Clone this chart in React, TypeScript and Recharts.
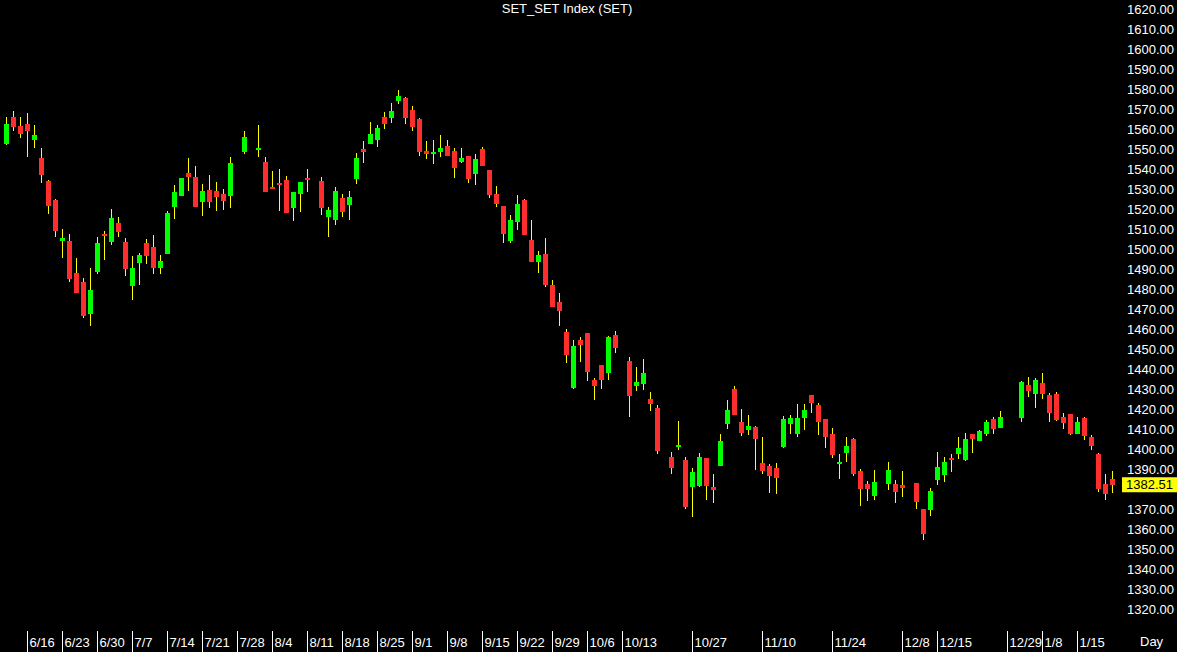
import React from "react";
import { ComposedChart, Bar, XAxis, YAxis, ReferenceLine } from "recharts";

// daily OHLC, null = no trading that slot
const opens = [
  1552.8, 1565.9, 1561.6, 1562.8, 1554.6, 1545.6, 1534.1, 1524.7, 1504.3, 1504.3,
  1488.2, 1483.7, 1467.9, 1488.7, 1507.7, 1503.8, 1513.2, 1503.5, 1481.7, 1493.1,
  1503.2, 1501.2, 1490.9, 1497.6, 1521.2, 1526.8, 1538.0, 1536.1, 1523.7, 1529.5,
  1529.2, 1527.5, 1526.8, null, 1548.5, null, 1549.8, 1543.8, 1531.2, 1533.3,
  1534.6, 1520.7, 1527.8, 1535.6, null, 1534.1, 1516.3, 1514.8, 1525.8, 1522.3,
  1535.3, 1550.3, 1552.8, 1554.6, 1565.9, 1565.7, 1574.1, 1575.6, 1569.4, 1565.1,
  1549.1, 1547.6, 1548.6, 1551.5, 1549.3, 1543.6, 1546.6, 1537.6, 1550.1, 1539.6,
  1527.8, 1521.8, 1504.3, 1513.8, 1524.5, 1504.8, 1493.9, 1497.7, 1482.2, 1473.6,
  1458.8, 1430.8, 1454.8, 1458.1, 1434.8, 1442.1, 1438.2, 1457.3, null, 1444.1,
  1432.0, 1432.9, 1425.5, 1420.7, null, 1396.4, 1401.2, 1394.9, 1381.5, 1381.8,
  1395.9, 1381.3, 1391.9, 1412.8, 1430.3, 1413.8, 1410.0, 1411.2, 1393.2, 1392.0,
  1390.7, 1401.4, 1413.0, 1407.9, 1415.7, 1427.3, 1422.3, 1415.3, 1407.9, 1393.0,
  1398.5, 1405.4, 1389.5, 1382.7, 1376.7, null, 1383.0, 1382.7, 1382.2, null,
  1383.4, 1370.4, 1370.1, 1384.9, 1387.4, 1395.7, 1398.0, 1394.7, 1407.9, 1404.5,
  1408.0, 1415.3, 1410.7, null, null, 1415.7, 1432.3, 1427.8, 1433.3, 1427.3,
  1427.8, 1416.3, 1417.7, 1408.0, 1416.0, 1406.4, 1398.0, 1382.9, 1385.4,
];

const highs = [
  1566.1, 1569.2, 1566.1, 1568.1, 1562.3, 1550.5, 1534.6, 1525.2, 1510.3, 1507.5,
  1495.6, 1485.9, 1490.7, 1506.2, 1509.2, 1520.0, 1516.2, 1505.9, 1496.7, 1498.4,
  1505.3, 1507.0, 1497.2, 1519.2, 1532.0, 1535.5, 1545.6, 1541.5, 1532.5, 1537.1,
  1533.6, 1530.2, 1546.1, null, 1559.1, null, 1562.1, 1546.1, 1539.1, 1540.1,
  1536.8, 1528.5, 1533.5, 1540.1, null, 1536.0, 1521.3, 1531.0, 1527.7, 1529.3,
  1548.1, 1554.1, 1563.6, 1562.1, 1568.6, 1573.1, 1579.6, 1576.1, 1571.7, 1565.6,
  1554.0, 1554.6, 1557.0, 1554.5, 1550.5, 1550.6, 1546.6, 1547.6, 1551.0, 1539.6,
  1531.7, 1521.8, 1517.2, 1527.2, 1525.0, 1514.7, 1499.2, 1505.7, 1484.7, 1478.1,
  1460.1, 1454.9, 1456.4, 1458.1, 1435.7, 1442.1, 1456.8, 1459.3, null, 1446.3,
  1441.1, 1445.3, 1428.8, 1422.3, null, 1398.9, 1414.3, 1396.4, 1390.9, 1398.2,
  1395.9, 1388.0, 1407.9, 1424.8, 1431.7, 1420.2, 1417.2, 1411.8, 1406.4, 1392.7,
  1393.4, 1416.8, 1417.3, 1422.8, 1422.8, 1427.3, 1423.2, 1415.3, 1411.0, 1398.0,
  1406.4, 1405.7, 1390.2, 1384.2, 1389.7, null, 1393.7, 1384.7, 1389.5, null,
  1383.4, 1370.4, 1380.9, 1398.9, 1396.2, 1397.9, 1406.5, 1408.2, 1407.9, 1409.7,
  1414.8, 1416.3, 1419.2, null, null, 1434.3, 1436.5, 1435.7, 1438.3, 1428.3,
  1428.7, 1418.5, 1417.7, 1416.5, 1416.3, 1407.4, 1398.4, 1387.7, 1389.4,
];

const lows = [
  1552.3, 1559.2, 1555.5, 1546.3, 1550.8, 1533.0, 1517.5, 1506.3, 1495.9, 1483.9,
  1478.1, 1465.6, 1461.9, 1487.9, 1494.7, 1502.3, 1506.3, 1486.6, 1474.9, 1482.2,
  1492.7, 1487.9, 1487.6, 1497.6, 1515.3, 1526.8, 1529.3, 1521.0, 1516.8, 1520.7,
  1519.2, 1519.5, 1520.8, null, 1547.6, null, 1546.1, 1528.7, 1530.3, 1519.2,
  1518.3, 1514.3, 1518.7, 1528.8, null, 1517.3, 1506.0, 1512.2, 1516.3, 1514.8,
  1532.5, 1543.3, 1552.8, 1551.1, 1560.3, 1563.1, 1572.7, 1562.7, 1559.2, 1546.8,
  1545.3, 1542.6, 1546.3, 1546.8, 1535.8, 1543.1, 1533.0, 1532.3, 1541.5, 1525.5,
  1521.3, 1503.3, 1503.3, 1509.7, 1507.2, 1493.9, 1488.4, 1481.4, 1471.4, 1461.9,
  1443.5, 1430.2, 1443.6, 1434.2, 1424.8, 1430.2, 1434.6, 1448.5, null, 1416.3,
  1429.5, 1430.0, 1419.5, 1398.0, null, 1387.7, 1399.7, 1370.6, 1366.6, 1381.4,
  1374.9, 1373.6, 1391.9, 1410.4, 1417.2, 1407.0, 1407.2, 1389.7, 1387.7, 1378.4,
  1378.1, 1400.7, 1408.0, 1406.5, 1409.9, 1418.5, 1407.4, 1400.7, 1396.0, 1385.5,
  1394.0, 1387.0, 1372.1, 1374.4, 1374.9, null, 1379.9, 1373.6, 1376.6, null,
  1370.3, 1355.1, 1367.1, 1382.4, 1384.1, 1389.0, 1395.5, 1394.5, 1398.2, 1404.5,
  1406.7, 1407.8, 1410.7, null, null, 1413.8, 1426.3, 1420.8, 1425.3, 1413.8,
  1414.3, 1410.4, 1407.4, 1408.0, 1405.0, 1400.1, 1379.1, 1374.9, 1378.6,
];

const closes = [
  1562.6, 1560.9, 1557.5, 1559.1, 1557.1, 1537.3, 1521.8, 1509.2, 1505.7, 1485.2,
  1478.1, 1466.9, 1479.7, 1503.3, 1506.7, 1515.5, 1508.7, 1490.4, 1490.7, 1497.1,
  1496.7, 1490.9, 1494.2, 1518.2, 1528.8, 1535.5, 1536.3, 1521.0, 1529.3, 1523.7,
  1526.3, 1524.3, 1543.3, null, 1556.1, null, 1550.5, 1528.7, 1530.3, 1532.5,
  1518.3, 1528.5, 1533.5, 1534.8, null, 1520.7, 1519.7, 1529.0, 1518.8, 1526.2,
  1545.8, 1548.8, 1557.5, 1560.5, 1562.8, 1568.9, 1576.6, 1565.7, 1561.3, 1548.6,
  1547.8, 1548.8, 1550.6, 1546.8, 1540.8, 1545.6, 1535.1, 1545.3, 1541.8, 1527.3,
  1522.8, 1507.8, 1514.5, 1522.8, 1507.2, 1493.9, 1497.2, 1482.1, 1471.4, 1469.4,
  1447.4, 1451.6, 1452.4, 1438.6, 1431.8, 1434.6, 1456.3, 1450.8, null, 1427.0,
  1433.8, 1438.1, 1423.0, 1399.5, null, 1391.0, 1402.2, 1371.3, 1388.7, 1396.2,
  1382.1, 1380.1, 1404.2, 1420.0, 1417.2, 1408.5, 1412.0, 1405.2, 1389.5, 1387.0,
  1386.0, 1415.5, 1415.8, 1416.0, 1419.8, 1423.5, 1414.0, 1406.5, 1397.5, 1393.7,
  1401.9, 1387.7, 1380.3, 1380.4, 1383.9, null, 1389.9, 1378.7, 1381.1, null,
  1374.1, 1358.1, 1379.4, 1391.2, 1393.9, 1394.9, 1400.9, 1405.2, 1405.2, 1409.2,
  1413.8, 1410.5, 1416.2, null, null, 1433.7, 1429.5, 1434.8, 1427.8, 1418.5,
  1414.8, 1413.5, 1408.0, 1413.8, 1407.0, 1401.9, 1380.6, 1378.1, 1382.51,
];

// week separators: slot index -> label
const tickIdx = [3, 8, 13, 18, 23, 28, 33, 38, 43, 48, 53, 58, 63, 68, 73, 78, 83, 88, 98, 108, 118, 128, 133, 143, 148, 153];
const tickText = ["6/16", "6/23", "6/30", "7/7", "7/14", "7/21", "7/28", "8/4", "8/11", "8/18", "8/25", "9/1", "9/8", "9/15", "9/22", "9/29", "10/6", "10/13", "10/27", "11/10", "11/24", "12/8", "12/15", "12/29", "1/8", "1/15"];

const yTicks = [1320, 1330, 1340, 1350, 1360, 1370, 1380, 1390, 1400, 1410, 1420, 1430, 1440, 1450, 1460, 1470, 1480, 1490, 1500, 1510, 1520, 1530, 1540, 1550, 1560, 1570, 1580, 1590, 1600, 1610, 1620];

const lastPrice = 1382.51;

const data = opens.map((o, i) => ({ i, o, h: highs[i], l: lows[i], c: closes[i] }));

const FONT = "'Liberation Sans', Arial, sans-serif";
const UP = "#00ff00";
const DOWN = "#ff2e2e";
const WICK = "#ffff00";

function Candle(props: any) {
  const { x, y, width, height, payload } = props;
  if (!payload || payload.o == null || y == null) return null;
  const { o, h, l, c } = payload;
  const top = Math.min(y, y + height);
  const bot = Math.max(y, y + height);
  const k = h === l ? 0 : (bot - top) / (h - l);
  const cx = Math.floor(x + width / 2);
  const yO = top + (h - o) * k;
  const yC = top + (h - c) * k;
  let bTop = Math.round(Math.min(yO, yC));
  let bBot = Math.round(Math.max(yO, yC));
  if (bBot - bTop < 2) bBot = bTop + 2;
  return (
    <g>
      <rect x={cx} y={Math.round(top)} width={1} height={Math.max(1, Math.round(bot) - Math.round(top))} fill={WICK} />
      <rect x={Math.round(x)} y={bTop} width={width} height={bBot - bTop} fill={c >= o ? UP : DOWN} />
    </g>
  );
}

function XTick(props: any) {
  const { x, y, payload } = props;
  const idx = tickIdx.indexOf(payload.value);
  if (idx < 0) return null;
  const lx = Math.floor(x) + 0.5;
  return (
    <g>
      <line x1={lx} x2={lx} y1={y + 1} y2={652} stroke="#ffffff" strokeWidth={1} />
      <text x={lx + 2} y={y + 17} fill="#ffffff" fontSize={13} fontFamily={FONT}>
        {tickText[idx]}
      </text>
    </g>
  );
}

function YTick(props: any) {
  const { x, y, payload } = props;
  // the last-price tag sits over the 1380 label, as in the source chart
  if (Math.abs(payload.value - lastPrice) < 4) return null;
  return (
    <text x={x + 11} y={y + 4.5} fill="#ffffff" fontSize={13} fontFamily={FONT} textAnchor="start">
      {Number(payload.value).toFixed(2)}
    </text>
  );
}

function PriceTag(props: any) {
  const vb = props.viewBox || {};
  const left = vb.x + vb.width + 6;
  const yy = vb.y;
  return (
    <g>
      <rect x={left} y={yy - 7.5} width={56} height={15} fill="#ffff00" />
      <text x={left + 4} y={yy + 4.5} fill="#000000" fontSize={13} fontFamily={FONT}>
        {lastPrice.toFixed(2)}
      </text>
    </g>
  );
}

export default function App() {
  return (
    <div style={{ position: "absolute", left: 0, top: 0, width: 1177, height: 652, background: "#000", fontFamily: FONT, overflow: "hidden" }}>
      <ComposedChart width={1177} height={652} data={data} margin={{ top: 0, right: 0, bottom: 0, left: 3 }} barCategoryGap={0}>
        <XAxis
          dataKey="i"
          type="category"
          height={22}
          interval={0}
          tickLine={false}
          axisLine={false}
          tickSize={0}
          tickMargin={0}
          tick={<XTick />}
        />
        <YAxis
          orientation="right"
          type="number"
          width={61}
          domain={[1310, 1624.5]}
          ticks={yTicks}
          interval={0}
          tickLine={false}
          axisLine={false}
          tickSize={0}
          tickMargin={0}
          tick={<YTick />}
        />
        <Bar
          dataKey={(d: any) => (d.o == null ? null : [d.l, d.h])}
          barSize={5}
          shape={(p: any) => <Candle {...p} />}
          isAnimationActive={false}
        />
        <ReferenceLine y={lastPrice} stroke="none" ifOverflow="visible" label={<PriceTag />} />
      </ComposedChart>
      <div style={{ position: "absolute", left: 0, top: 1, width: 1134, textAlign: "center", color: "#fff", fontSize: 13, lineHeight: "16px" }}>
        SET_SET Index (SET)
      </div>
      <div style={{ position: "absolute", left: 1140, top: 634, color: "#fff", fontSize: 13, lineHeight: "16px" }}>
        Day
      </div>
    </div>
  );
}
